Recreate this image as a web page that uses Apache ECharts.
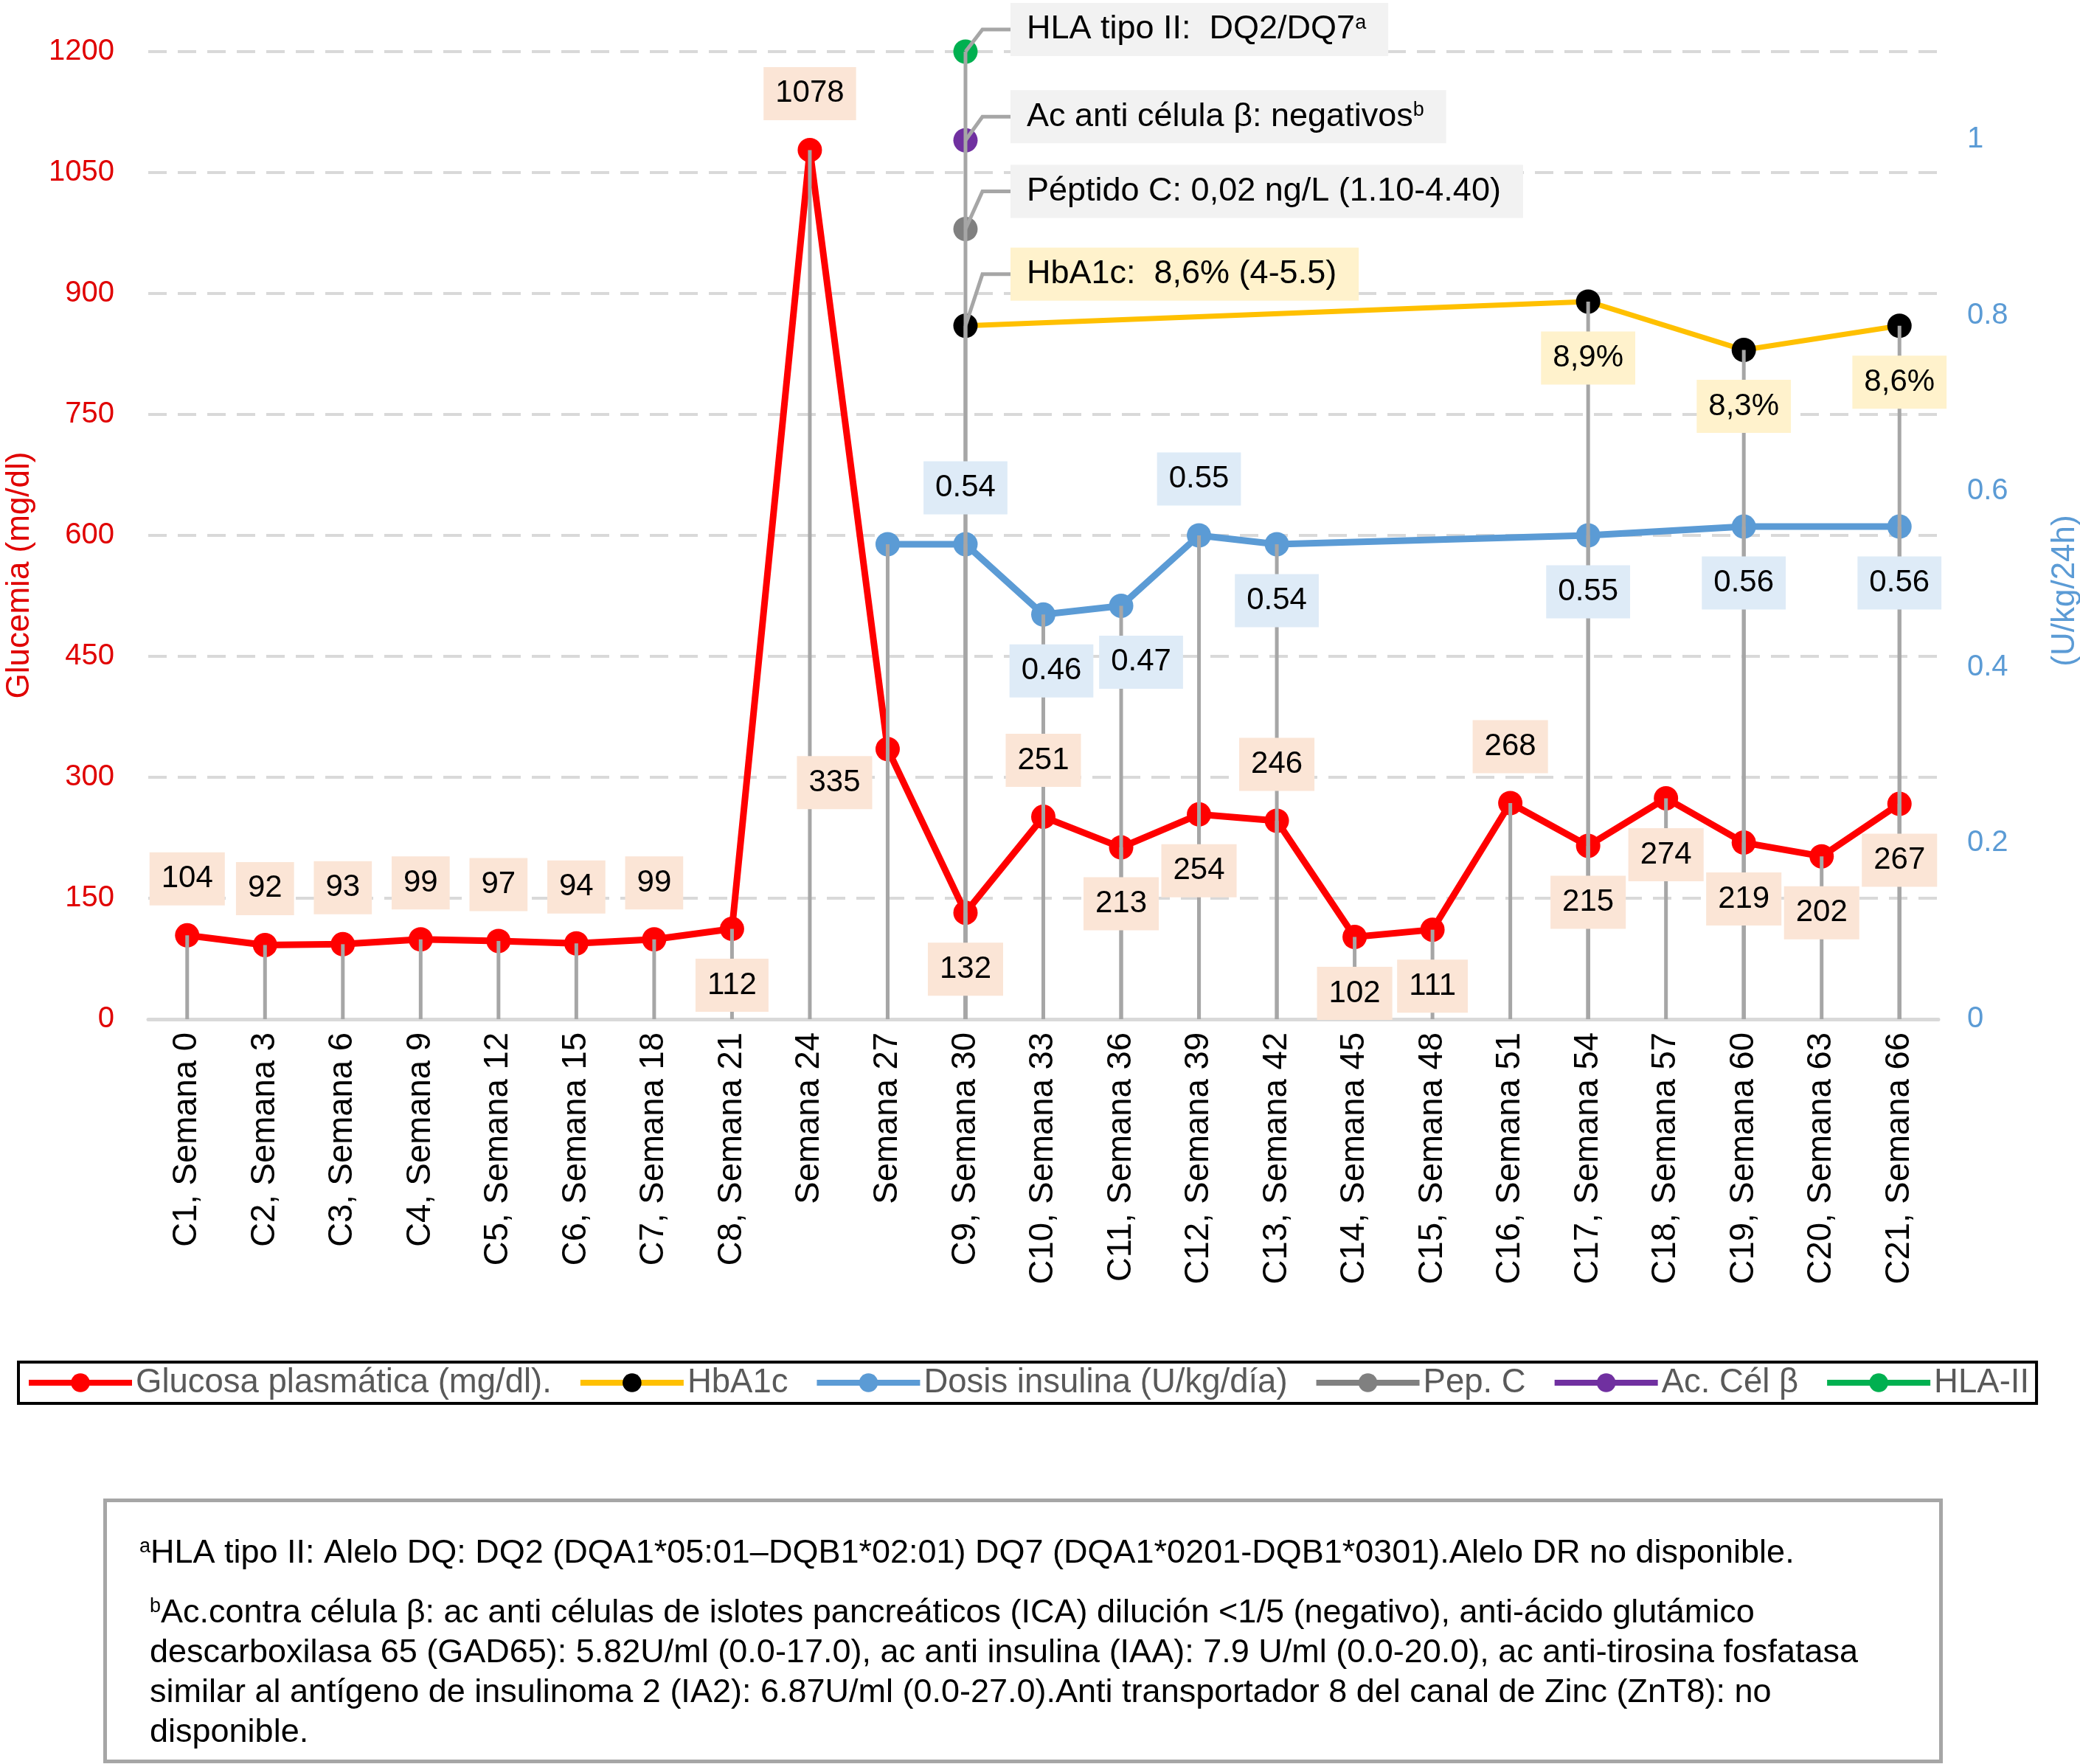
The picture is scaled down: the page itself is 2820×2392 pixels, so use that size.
<!DOCTYPE html>
<html>
<head>
<meta charset="utf-8">
<script src="https://cdn.jsdelivr.net/npm/echarts@6/dist/echarts.min.js"></script>
<style>
html,body{margin:0;padding:0;background:#fff;}
#chart{width:2820px;height:2392px;}
</style>
</head>
<body>
<div id="chart"></div>
<script>
const categories = ['C1, Semana 0','C2, Semana 3','C3, Semana 6','C4, Semana 9','C5, Semana 12','C6, Semana 15','C7, Semana 18','C8, Semana 21','Semana 24','Semana 27','C9, Semana 30','C10, Semana 33','C11, Semana 36','C12, Semana 39','C13, Semana 42','C14, Semana 45','C15, Semana 48','C16, Semana 51','C17, Semana 54','C18, Semana 57','C19, Semana 60','C20, Semana 63','C21, Semana 66'];

const glucose = [104,92,93,99,97,94,99,112,1078,335,132,251,213,254,246,102,111,268,215,274,219,202,267];
const insulin = [null,null,null,null,null,null,null,null,null,0.54,0.54,0.46,0.47,0.55,0.54,null,null,null,0.55,null,0.56,null,0.56];
const hba1c = [null,null,null,null,null,null,null,null,null,null,8.6,null,null,null,null,null,null,null,8.9,null,8.3,null,8.6];
// marker positions of single-event series (on the HbA1c-like 0-12 scale)
const pepC = [null,null,null,null,null,null,null,null,null,null,9.8,null,null,null,null,null,null,null,null,null,null,null,null];
const acCel = [null,null,null,null,null,null,null,null,null,null,10.9,null,null,null,null,null,null,null,null,null,null,null,null];
const hla = [null,null,null,null,null,null,null,null,null,null,12,null,null,null,null,null,null,null,null,null,null,null,null];

const leftTicks = {min: 0, max: 1200, interval: 150};
const rightTicks = {min: 0, max: 1.1, interval: 0.2};

const annotationTexts = {
  hla: 'HLA tipo II:  DQ2/DQ7{sup|a}',
  acCel: 'Ac anti célula β: negativos{sup|b}',
  pepC: 'Péptido C: 0,02 ng/L (1.10-4.40)',
  hba1c: 'HbA1c:  8,6% (4-5.5)'
};

const footnotes = [
  '{sup|a}HLA tipo II: Alelo DQ: DQ2 (DQA1*05:01–DQB1*02:01) DQ7 (DQA1*0201-DQB1*0301).Alelo DR no disponible.',
  '{sup|b}Ac.contra célula β: ac anti células de islotes pancreáticos (ICA) dilución <1/5 (negativo), anti-ácido glutámico',
  'descarboxilasa 65 (GAD65): 5.82U/ml (0.0-17.0), ac anti insulina (IAA): 7.9 U/ml (0.0-20.0), ac anti-tirosina fosfatasa',
  'similar al antígeno de insulinoma 2 (IA2): 6.87U/ml (0.0-27.0).Anti transportador 8 del canal de Zinc (ZnT8): no',
  'disponible.'
];

// ---------- styling / layout helpers ----------
const FONT = 'Liberation Sans, Arial, Helvetica, sans-serif';
const SYM = 33;
const glucoseLabelPos = ['top','top','top','top','top','top','top','bottom','top',[-72,-31],'bottom','top','bottom','bottom','top','bottom','bottom','top','bottom','bottom','bottom','bottom','bottom'];
const insulinLabelPos = {9:null,10:'top',11:[11,0],12:[27,0],13:'top',14:'bottom',18:'bottom',20:'bottom',22:'bottom'};

function labelBox(bg) {
  return {show: true, fontSize: 42, fontFamily: FONT, color: '#000', backgroundColor: bg,
    padding: [14, 16], lineHeight: 44, distance: 24, opacity: 1};
}

function glucoseData() {
  return glucose.map((v, i) => {
    const p = glucoseLabelPos[i];
    const lab = Array.isArray(p) ? {position: 'bottom', offset: p} : {position: p};
    return {value: [i, v], label: lab};
  });
}
function insulinData() {
  const out = [];
  insulin.forEach((v, i) => {
    if (v == null) return;
    const p = insulinLabelPos[i];
    let lab;
    if (p == null) lab = {show: false};
    else if (Array.isArray(p)) lab = {position: 'bottom', offset: p};
    else lab = {position: p};
    out.push({value: [i, v], label: lab});
  });
  return out;
}
function hbaData() {
  const out = [];
  hba1c.forEach((v, i) => {
    if (v == null) return;
    out.push({value: [i, v], label: i === 10 ? {show: false} : {position: 'bottom'}});
  });
  return out;
}

function dropSeries(arr, yIdx) {
  const d = [];
  arr.forEach((v, i) => { if (v != null) d.push([i, v]); });
  return {
    type: 'custom', yAxisIndex: yIdx, z: 3, silent: true, data: d,
    renderItem: function (params, api) {
      const top = api.coord([api.value(0), api.value(1)]);
      const bot = api.coord([api.value(0), 0]);
      return {type: 'line', shape: {x1: top[0], y1: top[1], x2: bot[0], y2: bot[1]},
        style: {stroke: '#a6a6a6', lineWidth: 5}};
    }
  };
}

function labelSeries(data, yIdx, bg, formatter) {
  const lab = labelBox(bg);
  if (formatter) lab.formatter = formatter;
  return {type: 'scatter', yAxisIndex: yIdx, z: 4, silent: true, symbolSize: SYM,
    itemStyle: {color: 'rgba(0,0,0,0)', opacity: 1}, data: data, label: lab};
}

const annKeys = ['hla', 'acCel', 'pepC', 'hba1c'];
const annSource = {hla: hla, acCel: acCel, pepC: pepC, hba1c: hba1c};
const annDy = {hla: -30, acCel: -32, pepC: -51, hba1c: -70};
const annBg = {hla: '#f2f2f2', acCel: '#f2f2f2', pepC: '#f2f2f2', hba1c: '#fff2cc'};
const annData = annKeys.map(k => [10, annSource[k][10]]);

function lineSeries(name, data, yIdx, lineColor, markerColor, width) {
  return {name: name, type: 'line', yAxisIndex: yIdx, z: 2, connectNulls: true,
    data: data, symbol: 'circle', symbolSize: SYM,
    lineStyle: {color: lineColor, width: width}, itemStyle: {color: markerColor}, label: {show: false}};
}

const chart = echarts.init(document.getElementById('chart'));
const option = {
  backgroundColor: '#fff',
  animation: false,
  textStyle: {fontFamily: FONT},
  grid: {left: 201, right: 192, top: 70, bottom: 1010, containLabel: false, outerBoundsMode: 'none'},
  legend: {
    left: 25, top: 1847,
    data: ['Glucosa plasmática (mg/dl).', 'HbA1c', 'Dosis insulina (U/kg/día)', 'Pep. C', 'Ac. Cél β', 'HLA-II'],
    itemWidth: 140, itemHeight: 32, itemGap: 35,
    padding: [5, 10], borderColor: '#000', borderWidth: 4,
    textStyle: {fontSize: 45.5, color: '#595959', fontFamily: FONT},
    lineStyle: {width: 8}
  },
  xAxis: {
    type: 'category', data: categories, boundaryGap: true,
    axisLine: {lineStyle: {color: '#d9d9d9', width: 5}},
    axisTick: {show: false},
    axisLabel: {rotate: 90, fontSize: 45.5, color: '#000', margin: 18, fontFamily: FONT, interval: 0}
  },
  yAxis: [
    {type: 'value', min: leftTicks.min, max: leftTicks.max, interval: leftTicks.interval,
     name: 'Glucemia (mg/dl)', nameLocation: 'middle', nameGap: 152,
     nameTextStyle: {color: '#e00000', fontSize: 44, fontFamily: FONT, padding: [0, 108, 0, 0]},
     axisLine: {show: false}, axisTick: {show: false},
     axisLabel: {color: '#e00000', fontSize: 40, margin: 46, fontFamily: FONT, formatter: v => String(v)},
     splitLine: {lineStyle: {color: '#d9d9d9', width: 4, type: [25, 15]}}},
    {type: 'value', position: 'right', min: rightTicks.min, max: rightTicks.max, interval: rightTicks.interval,
     name: '(U/kg/24h)', nameLocation: 'middle', nameGap: 150, nameRotate: 90,
     nameTextStyle: {color: '#5b9bd5', fontSize: 44, fontFamily: FONT, padding: [0, 150, 0, 0]},
     axisLine: {show: false}, axisTick: {show: false},
     axisLabel: {color: '#5b9bd5', fontSize: 40, margin: 39, showMaxLabel: false, fontFamily: FONT},
     splitLine: {show: false}},
    {type: 'value', show: false, min: 0, max: 12, splitLine: {show: false}}
  ],
  series: [
    lineSeries('Glucosa plasmática (mg/dl).', glucose, 0, '#ff0000', '#ff0000', 9),
    lineSeries('HbA1c', hba1c, 2, '#ffc000', '#000000', 7),
    lineSeries('Dosis insulina (U/kg/día)', insulin, 1, '#5b9bd5', '#5b9bd5', 9),
    lineSeries('Pep. C', pepC, 2, '#808080', '#808080', 9),
    lineSeries('Ac. Cél β', acCel, 2, '#7030a0', '#7030a0', 9),
    lineSeries('HLA-II', hla, 2, '#00b050', '#00b050', 9),
    dropSeries(glucose, 0),
    dropSeries(insulin, 1),
    dropSeries(hba1c, 2),
    dropSeries(hla, 2),
    labelSeries(glucoseData(), 0, '#fbe5d6'),
    labelSeries(hbaData(), 2, '#fff2cc', p => String(p.value[1]).replace('.', ',') + '%'),
    labelSeries(insulinData(), 1, '#deebf7', p => p.value[1].toFixed(2)),
    {
      type: 'custom', yAxisIndex: 2, z: 5, silent: true, data: annData,
      renderItem: function (params, api) {
        const k = annKeys[params.dataIndex];
        const p = api.coord([api.value(0), api.value(1)]);
        const dy = annDy[k];
        return {type: 'group', children: [
          {type: 'polyline', shape: {points: [[p[0], p[1]], [p[0] + 23, p[1] + dy], [p[0] + 61, p[1] + dy]]},
           style: {stroke: '#a6a6a6', lineWidth: 5, fill: null}},
          {type: 'text', x: p[0] + 61, y: p[1] + dy,
           style: {text: annotationTexts[k], fontSize: 45, fontFamily: FONT, fill: '#000',
             backgroundColor: annBg[k], padding: [14, 30, 14, 22], lineHeight: 44,
             align: 'left', verticalAlign: 'middle',
             rich: {sup: {fontSize: 27, verticalAlign: 'top', lineHeight: 44, fontFamily: FONT}}}}
        ]};
      }
    }
  ],
  graphic: [
    {type: 'rect', left: 140, top: 2032, shape: {width: 2489, height: 354},
     style: {fill: '#fff', stroke: '#a6a6a6', lineWidth: 5}},
    {type: 'text', left: 189, top: 2084, style: {text: footnotes[0], fontSize: 45, fontFamily: FONT, fill: '#000', rich: {sup: {fontSize: 27, verticalAlign: 'top', lineHeight: 45}}}},
    {type: 'text', left: 203, top: 2165, style: {text: footnotes[1], fontSize: 45, fontFamily: FONT, fill: '#000', rich: {sup: {fontSize: 27, verticalAlign: 'top', lineHeight: 45}}}},
    {type: 'text', left: 203, top: 2219, style: {text: footnotes[2], fontSize: 45, fontFamily: FONT, fill: '#000'}},
    {type: 'text', left: 203, top: 2273, style: {text: footnotes[3], fontSize: 45, fontFamily: FONT, fill: '#000'}},
    {type: 'text', left: 203, top: 2327, style: {text: footnotes[4], fontSize: 45, fontFamily: FONT, fill: '#000'}}
  ]
};
chart.setOption(option);
</script>
</body>
</html>
